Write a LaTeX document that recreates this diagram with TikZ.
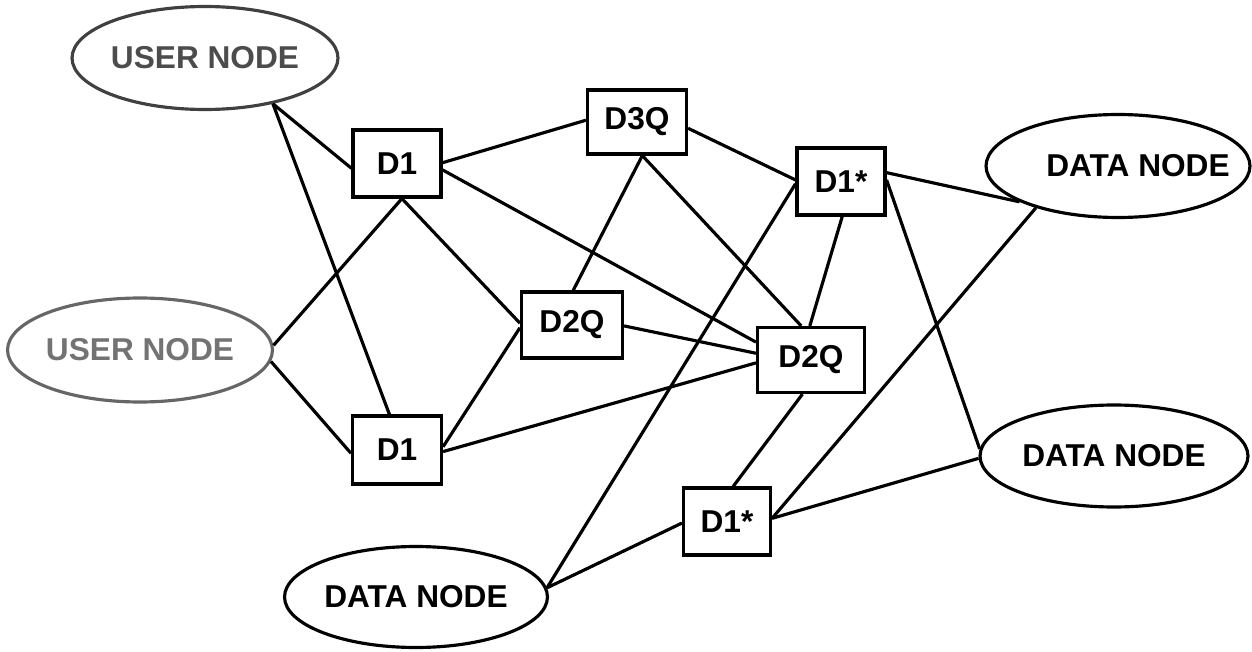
\documentclass[tikz,border=0pt]{standalone}
\usepackage{fontspec}
\setmainfont{Liberation Sans}
\usetikzlibrary{shapes.geometric}
\begin{document}
\begin{tikzpicture}[x=0.02cm, y=-0.02cm,
  txt/.style={font=\fontsize{18}{20}\selectfont\bfseries},
  conn/.style={line width=1.8pt},
  box/.style={draw, line width=1.8pt, rectangle, inner sep=0pt, txt},
  oval/.style={draw, line width=1.8pt, ellipse, inner sep=0pt}
]
\useasboundingbox (0,0) rectangle (1252,652);

% ellipses
\node[oval, draw=black!75, minimum width=5.32cm, minimum height=2.06cm,
      label={[txt, text=black!70]center:USER NODE}] (u1) at (205,58) {};
\node[oval, draw=black!60, minimum width=5.30cm, minimum height=2.08cm,
      label={[txt, text=black!55]center:USER NODE}] (u2) at (140,350) {};
\node[oval, minimum width=5.28cm, minimum height=2.06cm,
      label={[txt, xshift=0.4cm]center:DATA NODE}] (dn1) at (1118,166) {};
\node[oval, minimum width=5.36cm, minimum height=2.04cm,
      label={[txt]center:DATA NODE}] (dn2) at (1114,456) {};
\node[oval, minimum width=5.26cm, minimum height=2.02cm,
      label={[txt]center:DATA NODE}] (dn3) at (416,597) {};

% boxes
\node[box, minimum width=1.76cm, minimum height=1.34cm] (d1a) at (397,163.5) {D1};
\node[box, minimum width=1.78cm, minimum height=1.36cm] (d1b) at (397,450) {D1};
\node[box, minimum width=1.98cm, minimum height=1.28cm] (d3q) at (637,122) {D3Q};
\node[box, minimum width=2.02cm, minimum height=1.32cm] (d2qa) at (572,325) {D2Q};
\node[box, minimum width=2.14cm, minimum height=1.30cm] (d2qb) at (811,360) {D2Q};
\node[box, minimum width=1.76cm, minimum height=1.34cm] (d1sa) at (841,181.5) {D1*};
\node[box, minimum width=1.74cm, minimum height=1.34cm] (d1sb) at (727,521.5) {D1*};

% connectors
\draw[conn] (u1.-34) -- (d1a.186);
\draw[conn] (u1.-34) -- (d1b.102);
\draw[conn] (u2.2) -- (d1a.-82);
\draw[conn] (u2.-5) -- (d1b.184);
\draw[conn] (d1a.1) -- (d3q.178);
\draw[conn] (d1a.-8) -- (d2qb.162);
\draw[conn] (d1a.-82) -- (d2qa.178);
\draw[conn] (d1b.4) -- (d2qa.183);
\draw[conn] (d1b.-2) -- (d2qb.183);
\draw[conn] (d3q.-81) -- (d2qa.88);
\draw[conn] (d3q.-81) -- (d2qb.106);
\draw[conn] (d3q.-7) -- (d1sa.178);
\draw[conn] (d2qa.-1) -- (d2qb.173);
\draw[conn] (d1sa.-88) -- (d2qb.92);
\draw[conn] (d1sa.183) -- (dn3.4);
\draw[conn] (d1sa.11) -- (dn1.200);
\draw[conn] (d1sa.2) -- (dn2.177);
\draw[conn] (d2qb.-104) -- (d1sb.80);
\draw[conn] (d1sb.182) -- (dn3.4);
\draw[conn] (d1sb.4) -- (dn1.207);
\draw[conn] (d1sb.4) -- (dn2.181);
\end{tikzpicture}
\end{document}
